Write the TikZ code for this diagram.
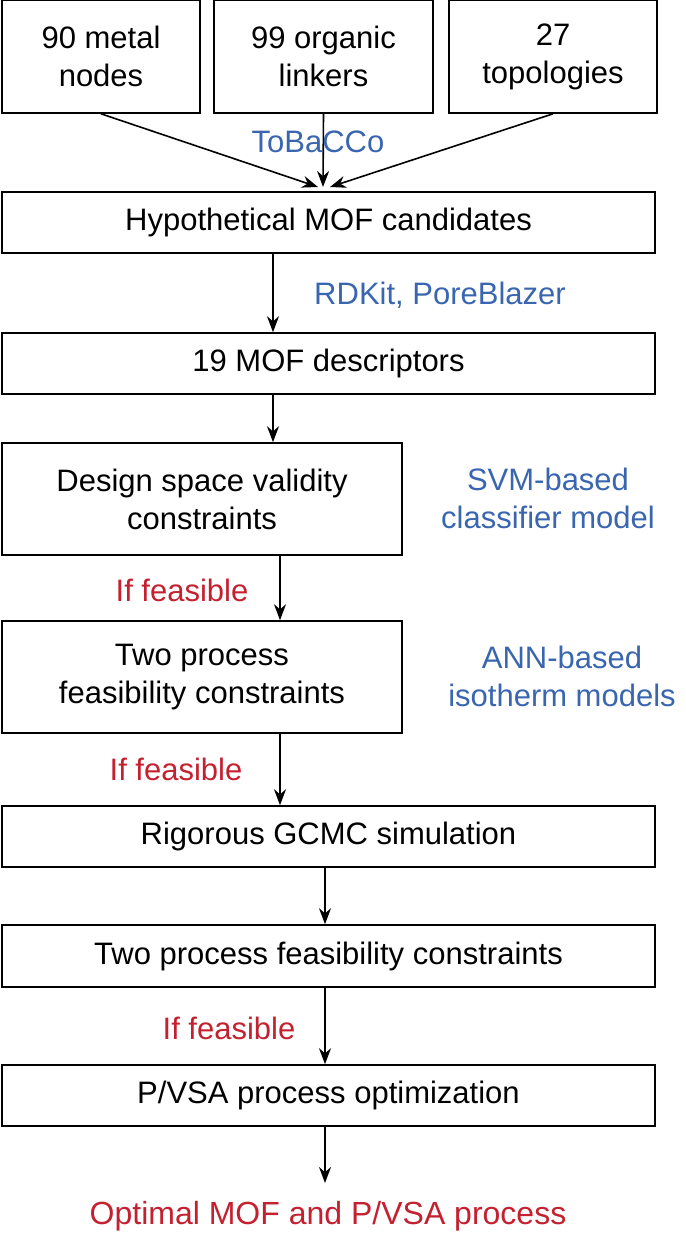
\documentclass[tikz,border=0pt]{standalone}
\usepackage{fontspec}
\setmainfont{Liberation Sans}
\usetikzlibrary{arrows.meta}
\definecolor{cblue}{HTML}{3A66B0}
\definecolor{cred}{HTML}{C42130}
\begin{document}
\begin{tikzpicture}[x=0.5pt,y=-0.5pt,
  box/.style={draw,line width=0.8pt,inner sep=0,align=center,font=\fontsize{15.5}{19}\selectfont},
  lbl/.style={align=center,font=\fontsize{15.5}{19}\selectfont},
  arr/.style={-{Stealth[length=8pt,width=6pt]},line width=0.8pt}]
\useasboundingbox (0,0) rectangle (685,1235);
\node[box,minimum width=99pt,minimum height=56.5pt] (b1) at (101,56.5) {90 metal\\nodes};
\node[box,minimum width=109.5pt,minimum height=56.5pt] (b2) at (323.5,56.5) {99 organic\\linkers};
\node[box,minimum width=104pt,minimum height=56.5pt] (b3) at (553,56.5) {27\\topologies};
\node[box,minimum width=326.5pt,minimum height=30.5pt] (hyp) at (328.5,222.5) {Hypothetical MOF candidates};
\node[box,minimum width=326.5pt,minimum height=30.5pt] (d19) at (328.5,363.5) {19 MOF descriptors};
\node[box,minimum width=200pt,minimum height=56pt] (ds) at (202,499) {Design space validity\\constraints};
\node[box,minimum width=200pt,minimum height=56pt] (tp) at (202,677) {Two process\\feasibility constraints};
\node[box,minimum width=326.5pt,minimum height=30.5pt] (rg) at (328.5,836.5) {Rigorous GCMC simulation};
\node[box,minimum width=326.5pt,minimum height=31pt] (tp2) at (328.5,956) {Two process feasibility constraints};
\node[box,minimum width=326.5pt,minimum height=30.5pt] (pv) at (328.5,1095.5) {P/VSA process optimization};
\node[lbl,text=cred,font=\fontsize{16}{19}\selectfont] (fin) at (328,1216) {Optimal MOF and P/VSA process};
\coordinate (m1) at (318,187);
\coordinate (m2) at (323,187);
\coordinate (m3) at (330,187);
\draw[arr] (b1.south) -- (m1);
\draw[arr] (b2.south) -- (m2);
\draw[arr] (b3.south) -- (m3);
\draw[arr] (hyp.south -| 273,0) -- (d19.north -| 273,0);
\draw[arr] (d19.south -| 273,0) -- (ds.north -| 273,0);
\draw[arr] (ds.south -| 280,0) -- (tp.north -| 280,0);
\draw[arr] (tp.south -| 280,0) -- (rg.north -| 280,0);
\draw[arr] (rg.south -| 325,0) -- (tp2.north -| 325,0);
\draw[arr] (tp2.south -| 325,0) -- (pv.north -| 325,0);
\draw[arr] (pv.south -| 325,0) -- (325,1183);
\node[lbl,text=cblue] (t1) at (318,142) {ToBaCCo};
\node[lbl,text=cblue] (t2) at (440,295) {RDKit, PoreBlazer};
\node[lbl,text=cblue] (t3) at (548,498) {SVM-based\\classifier model};
\node[lbl,text=cblue] (t4) at (562,676) {ANN-based\\isotherm models};
\node[lbl,text=cred] (f1) at (182,590) {If feasible};
\node[lbl,text=cred] (f2) at (176,769) {If feasible};
\node[lbl,text=cred] (f3) at (229,1028) {If feasible};
\end{tikzpicture}
\end{document}
